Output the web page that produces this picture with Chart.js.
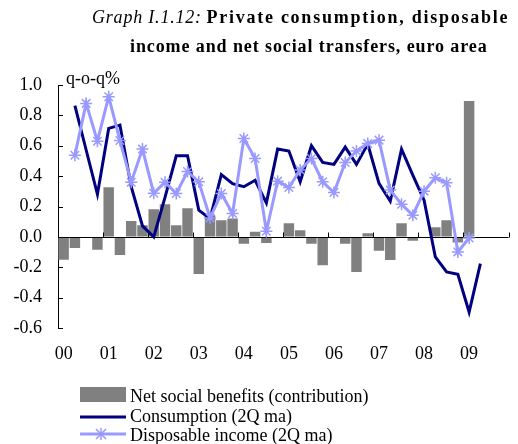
<!DOCTYPE html>
<html>
<head>
<meta charset="utf-8">
<script src="https://cdn.jsdelivr.net/npm/chart.js@4.4.1/dist/chart.umd.min.js"></script>
<style>
  body { margin: 0; background: #fff; }
  #wrap { position: relative; width: 518px; height: 444px; overflow: hidden; font-family: "Liberation Serif", "Times New Roman", serif; color: #000; }
  #chart { position: absolute; left: 0; top: 0; }
  .t { position: absolute; font-size: 18px; line-height: 20px; white-space: nowrap; }
  .t b { letter-spacing: 0.9px; }
  .t i { letter-spacing: 0.8px; }
  .t b.wide { letter-spacing: 1.75px; }
  .leg { position: absolute; font-size: 18px; line-height: 20px; white-space: nowrap; left: 130px; }
  svg { position: absolute; left: 0; top: 0; }
</style>
</head>
<body>
<div id="wrap">
  <canvas id="chart" width="518" height="444"></canvas>
  <div class="t" style="left: 92px; top: 7px;"><i>Graph I.1.12:</i> <b class="wide">Private consumption, disposable</b></div>
  <div class="t" style="left: 130px; top: 36px;"><b>income and net social transfers, euro area</b></div>
  <svg width="518" height="444">
    <rect x="80" y="387" width="46" height="15" fill="#808080"></rect>
    <line x1="80" y1="417" x2="126" y2="417" stroke="#000080" stroke-width="3"></line>
    <line x1="80" y1="434" x2="126" y2="434" stroke="#9999ff" stroke-width="3"></line>
    <path d="M101 428 L101 440 M96 429 L106 439 M106 429 L96 439 M95 434 L107 434" stroke="#9999ff" stroke-width="1.5"></path>
  </svg>
  <div class="leg" style="top: 386px;">Net social benefits (contribution)</div>
  <div class="leg" style="top: 406px;">Consumption (2Q ma)</div>
  <div class="leg" style="top: 425px;">Disposable income (2Q ma)</div>
</div>
<script>
const years = ['00', '01', '02', '03', '04', '05', '06', '07', '08', '09'];
const quarters = years.flatMap(y => ['Q1', 'Q2', 'Q3', 'Q4'].map(q => y + q));

// net social benefits, contribution (pp), 2000Q1 - 2009Q1
const netSocialBenefits = [
  -0.15, -0.073, 0, -0.085, 0.327, -0.119, 0.105, 0.077, 0.182, 0.215,
  0.077, 0.189, -0.244, 0.143, 0.11, 0.121, -0.046, 0.033, -0.04, 0,
  0.09, 0.044, -0.046, -0.187, 0, -0.046, -0.231, 0.024, -0.092, -0.152,
  0.09, -0.026, 0, 0.064, 0.11, -0.037, 0.894, null, null, null
];
// consumption, 2Q moving average
const consumption = [
  null, 0.864, 0.572, 0.28, 0.714, 0.736, 0.33, 0.072, 0.0, 0.26,
  0.534, 0.534, 0.176, 0.12, 0.41, 0.35, 0.33, 0.373, 0.224, 0.578,
  0.565, 0.363, 0.6, 0.49, 0.477, 0.591, 0.477, 0.611, 0.352, 0.235,
  0.578, 0.407, 0.242, -0.132, -0.231, -0.246, -0.495, -0.176, null, null
];
// disposable income, 2Q moving average
const disposableIncome = [
  null, 0.538, 0.879, 0.63, 0.923, 0.634, 0.36, 0.578, 0.287, 0.36,
  0.286, 0.43, 0.363, 0.125, 0.286, 0.154, 0.648, 0.516, 0.037, 0.367,
  0.325, 0.44, 0.516, 0.363, 0.292, 0.49, 0.565, 0.615, 0.637, 0.308,
  0.215, 0.143, 0.301, 0.389, 0.356, -0.099, -0.007, null, null, null
];
const yTicks = { min: -0.6, max: 1.0, step: 0.2 };

const serif = '"Liberation Serif", "Times New Roman", serif';

// axis at zero, year ticks, inside y ticks, unit label
const axisPlugin = {
  id: 'axisPlugin',
  afterDatasetDraw(chart, args) {
    if (args.index !== 0) return;
    const { ctx, chartArea, scales } = chart;
    const x = scales.x, y = scales.y;
    const y0 = Math.round(y.getPixelForValue(0)) + 0.5;
    ctx.save();
    ctx.strokeStyle = '#000';
    ctx.lineWidth = 1;
    ctx.beginPath();
    ctx.moveTo(chartArea.left, y0);
    ctx.lineTo(chartArea.right, y0);
    const half = (x.getPixelForValue(1) - x.getPixelForValue(0)) / 2;
    for (let i = 4; i <= quarters.length; i += 4) {
      const px = Math.round(x.getPixelForValue(i) - half) + 0.5;
      ctx.moveTo(px, y0);
      ctx.lineTo(px, y0 - 5);
    }
    for (let v = yTicks.min; v <= yTicks.max + 1e-9; v += yTicks.step) {
      const py = Math.round(y.getPixelForValue(v)) + 0.5;
      ctx.moveTo(chartArea.left, py);
      ctx.lineTo(chartArea.left + 5, py);
    }
    ctx.stroke();
    ctx.restore();
  },
  afterDraw(chart) {
    const { ctx, chartArea } = chart;
    ctx.save();
    ctx.font = '18px ' + serif;
    ctx.fillStyle = '#000';
    ctx.textBaseline = 'alphabetic';
    ctx.fillText('q-o-q%', chartArea.left + 8, chartArea.top - 1);
    ctx.restore();
  }
};

new Chart(document.getElementById('chart'), {
  type: 'bar',
  data: {
    labels: quarters,
    datasets: [
      {
        type: 'bar',
        label: 'Net social benefits (contribution)',
        data: netSocialBenefits,
        backgroundColor: '#808080',
        borderWidth: 0,
        barPercentage: 0.93,
        categoryPercentage: 1,
        order: 3
      },
      {
        type: 'line',
        label: 'Consumption (2Q ma)',
        data: consumption,
        borderColor: '#000080',
        borderWidth: 3,
        pointRadius: 0,
        tension: 0,
        order: 2
      },
      {
        type: 'line',
        label: 'Disposable income (2Q ma)',
        data: disposableIncome,
        borderColor: '#9999ff',
        backgroundColor: '#9999ff',
        borderWidth: 3,
        pointStyle: 'star',
        pointRadius: 6,
        pointBorderWidth: 1.5,
        pointBorderColor: '#9999ff',
        tension: 0,
        order: 1
      }
    ]
  },
  options: {
    responsive: false,
    animation: false,
    layout: { padding: { top: 85, bottom: 76, left: 0, right: 0 } },
    plugins: {
      legend: { display: false },
      tooltip: { enabled: false }
    },
    scales: {
      x: {
        grid: { display: false, drawTicks: false },
        border: { display: false },
        ticks: {
          autoSkip: false,
          maxRotation: 0,
          padding: 15,
          color: '#000',
          font: { family: serif, size: 18 },
          callback: (v, i) => (i % 4 === 0 ? years[i / 4] : '')
        },
        afterFit: s => { s.height = 40; }
      },
      y: {
        min: yTicks.min,
        max: yTicks.max,
        grid: { drawOnChartArea: false, drawTicks: false },
        border: { display: true, color: '#000', width: 1 },
        ticks: {
          stepSize: yTicks.step,
          padding: 16,
          color: '#000',
          font: { family: serif, size: 18 },
          callback: v => (Math.abs(v) < 1e-9 ? '0.0' : v.toFixed(1))
        },
        afterFit: s => { s.width = 58; }
      }
    }
  },
  plugins: [axisPlugin]
});
</script>
</body>
</html>
